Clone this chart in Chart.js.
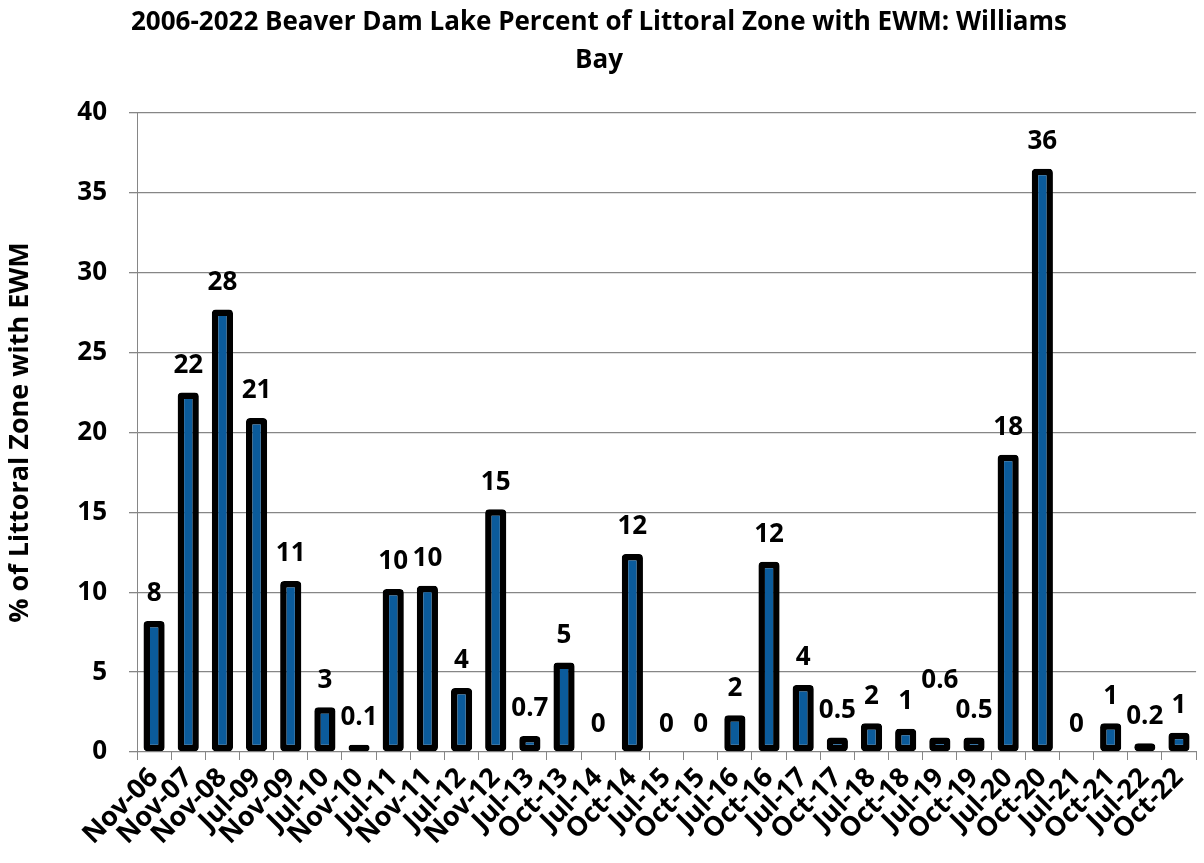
<!DOCTYPE html>
<html>
<head>
<meta charset="utf-8">
<script src="https://cdn.jsdelivr.net/npm/chart.js@4/dist/chart.umd.min.js"></script>
<style>
  html, body { margin: 0; padding: 0; background: #fff; }
  #wrap { width: 1204px; height: 863px; }
</style>
</head>
<body>
<div id="wrap"><canvas id="chart"></canvas></div>
<script>
const categories = ['Nov-06', 'Nov-07', 'Nov-08', 'Jul-09', 'Nov-09', 'Jul-10', 'Nov-10', 'Jul-11',
  'Nov-11', 'Jul-12', 'Nov-12', 'Jul-13', 'Oct-13', 'Jul-14', 'Oct-14', 'Jul-15', 'Oct-15', 'Jul-16',
  'Oct-16', 'Jul-17', 'Oct-17', 'Jul-18', 'Oct-18', 'Jul-19', 'Oct-19', 'Jul-20', 'Oct-20', 'Jul-21',
  'Oct-21', 'Jul-22', 'Oct-22']
const percentEWM = [8.2, 22.5, 27.7, 20.9, 10.7, 2.8, 0.45, 10.2, 10.4, 4.0, 15.2, 1.0, 5.6, 0, 12.4, 0,
  0, 2.3, 11.9, 4.2, 0.9, 1.8, 1.45, 0.9, 0.9, 18.6, 36.5, 0, 1.8, 0.55, 1.2]
const valueLabels = ['8', '22', '28', '21', '11', '3', '0.1', '10', '10', '4', '15', '0.7', '5', '0', '12', '0',
  '0', '2', '12', '4', '0.5', '2', '1', '0.6', '0.5', '18', '36', '0', '1', '0.2', '1']
const yTicks = [0, 5, 10, 15, 20, 25, 30, 35, 40]

const FONT = "'Open Sans', 'DejaVu Sans', sans-serif"
const GRID = '#868686'

// value labels drawn above each bar
const barLabels = {
  id: 'barLabels',
  afterDatasetsDraw(chart, args, opts) {
    const ctx = chart.ctx
    const meta = chart.getDatasetMeta(0)
    ctx.save()
    ctx.font = 'bold 26px ' + FONT
    ctx.fillStyle = '#000'
    ctx.textAlign = 'center'
    ctx.textBaseline = 'middle'
    meta.data.forEach((bar, i) => {
      const lift = opts.lift[categories[i]] || 0
      ctx.fillText(valueLabels[i], bar.x, bar.y - 27 - lift)
    })
    ctx.restore()
  }
}

const ctx = document.getElementById('chart').getContext('2d')
new Chart(ctx, {
  type: 'bar',
  data: {
    labels: categories,
    datasets: [{
      data: percentEWM,
      backgroundColor: '#0b5b9b',
      borderColor: '#000',
      borderWidth: 6.5,
      borderRadius: 4,
      borderSkipped: false,
      categoryPercentage: 1,
      barPercentage: 0.62
    }]
  },
  options: {
    responsive: true,
    maintainAspectRatio: false,
    animation: false,
    layout: { padding: { left: 0, right: 6, top: 0, bottom: 0 } },
    plugins: {
      legend: { display: false },
      tooltip: { enabled: false },
      title: {
        display: true,
        text: ['2006-2022 Beaver Dam Lake Percent of Littoral Zone with EWM: Williams', 'Bay'],
        color: '#000',
        font: { family: FONT, size: 26, weight: 'bold', lineHeight: 1.46 },
        padding: { top: 4, bottom: 33 }
      },
      barLabels: { lift: { 'Jul-19': 30 } }
    },
    scales: {
      x: {
        afterFit(scale) { scale.height = 111 },
        border: { color: GRID, width: 1 },
        grid: { display: true, drawOnChartArea: false, drawTicks: true, tickLength: 8, color: GRID, offset: true },
        ticks: {
          color: '#000',
          font: { family: FONT, size: 27, weight: 'bold' },
          maxRotation: 45,
          minRotation: 45,
          autoSkip: false,
          padding: 2
        }
      },
      y: {
        min: 0,
        max: 40,
        afterFit(scale) { scale.width = 137 },
        afterBuildTicks(scale) { scale.ticks = yTicks.map(v => ({ value: v })) },
        border: { color: GRID, width: 1 },
        grid: { color: GRID, lineWidth: 1.3, tickLength: 8, drawTicks: true },
        ticks: {
          color: '#000',
          font: { family: FONT, size: 26, weight: 'bold' },
          padding: 22
        },
        title: {
          display: true,
          text: '% of Littoral Zone with EWM',
          color: '#000',
          font: { family: FONT, size: 27, weight: 'bold' },
          padding: { top: 4, bottom: 0 }
        }
      }
    }
  },
  plugins: [barLabels]
})
</script>
</body>
</html>
